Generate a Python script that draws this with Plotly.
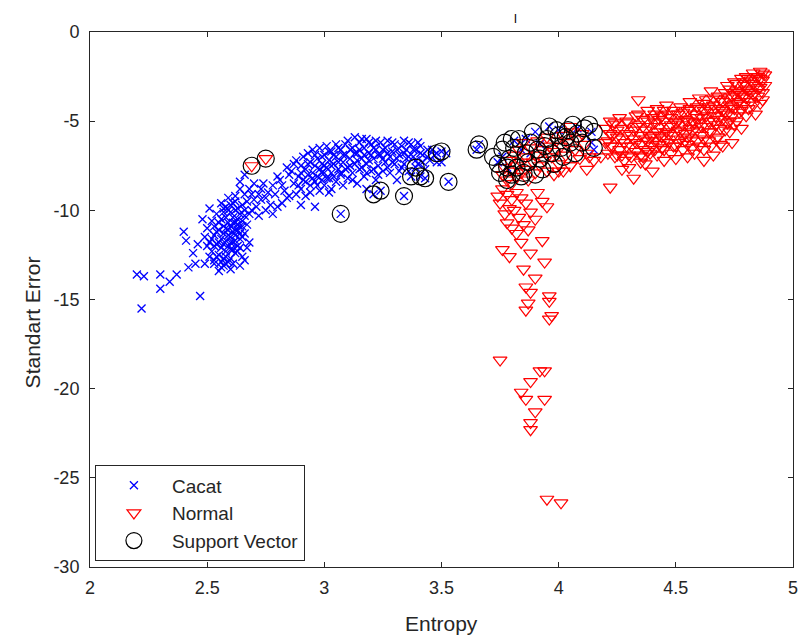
import plotly.graph_objects as go

# ---- Cacat (blue x) ----
cacat_pts = [
    (2.20,-13.6),(2.23,-13.7),(2.22,-15.5),(2.30,-13.6),(2.30,-14.4),(2.34,-14.0),(2.37,-13.6),
    (2.42,-13.2),(2.40,-11.2),(2.41,-11.7),(2.45,-13.0),(2.49,-13.0),(2.47,-14.8),(2.44,-12.4),(2.46,-11.9),
    (2.50,-11.0),(2.51,-11.8),(2.52,-12.3),(2.52,-10.6),(2.53,-11.4),(2.53,-12.8),(2.54,-10.2),(2.54,-11.9),
    (2.55,-11.1),(2.55,-12.5),(2.55,-13.4),(2.56,-10.5),(2.56,-11.6),(2.56,-12.1),(2.57,-10.9),(2.57,-11.3),
    (2.57,-12.7),(2.58,-9.8),(2.58,-10.4),(2.58,-11.0),(2.58,-11.7),(2.58,-12.3),(2.59,-10.7),(2.59,-11.4),
    (2.59,-12.0),(2.59,-12.9),(2.60,-10.1),(2.60,-10.9),(2.60,-11.5),(2.60,-12.2),(2.61,-9.6),(2.61,-10.4),
    (2.61,-11.2),(2.61,-11.8),(2.61,-13.0),(2.62,-10.0),(2.62,-10.7),(2.62,-11.4),(2.62,-12.4),(2.63,-9.9),
    (2.63,-10.5),(2.63,-11.1),(2.63,-12.0),(2.64,-10.2),(2.64,-10.9),(2.64,-11.6),(2.65,-9.7),(2.65,-10.6),
    (2.65,-12.6),(2.66,-10.3),(2.66,-11.3),(2.67,-12.1),(2.54,-12.6),(2.57,-13.1),(2.60,-13.3),(2.53,-10.9),
    (2.49,-11.5),(2.48,-10.5),(2.51,-9.9),(2.56,-9.6),(2.59,-9.3),(2.62,-9.2),(2.68,-11.8),(2.66,-12.8),(2.64,-13.1),
    (2.52,-11.6),(2.53,-12.0),(2.54,-11.2),(2.55,-10.7),(2.55,-11.8),(2.56,-12.9),(2.57,-10.1),(2.57,-11.9),
    (2.58,-12.6),(2.59,-11.1),(2.59,-10.0),(2.60,-11.8),(2.60,-12.7),(2.61,-10.7),(2.61,-12.2),(2.62,-11.1),
    (2.62,-11.7),(2.63,-10.8),(2.63,-12.3),(2.64,-11.3),(2.64,-12.1),(2.65,-10.9),(2.65,-11.5),(2.66,-10.0),
    (2.58,-13.0),(2.56,-13.2),(2.53,-13.0),(2.51,-12.6),(2.50,-12.0),(2.62,-9.5),(2.60,-9.7),(2.57,-9.9),
    (2.67,-10.8),(2.68,-10.2),
    (2.64,-8.4),(2.64,-8.8),(2.73,-8.8),(2.73,-9.4),(2.76,-9.0),(2.81,-8.3),(2.82,-9.6),(2.72,-10.3),(2.80,-9.8),
    (2.69,-9.1),(2.70,-8.5),(2.67,-9.5),(2.78,-8.6),(2.83,-8.9),(2.77,-9.7),(2.85,-8.0),(2.84,-7.6),(2.71,-9.8),
    (2.66,-8.0),(2.75,-10.0),(2.68,-8.8),(2.70,-9.4),(2.72,-9.1),(2.74,-8.5),(2.75,-9.3),(2.79,-9.1),(2.80,-8.1),
    (2.82,-8.6),(2.84,-9.3),(2.66,-9.1),(2.69,-10.0),(2.78,-10.2),
    (2.86,-7.8),(2.87,-8.5),(2.88,-7.2),(2.88,-9.1),(2.89,-8.1),(2.90,-7.5),(2.90,-8.8),(2.91,-7.0),(2.91,-8.3),
    (2.92,-7.7),(2.92,-9.2),(2.93,-6.8),(2.93,-8.0),(2.94,-7.3),(2.94,-8.6),(2.95,-7.9),(2.95,-6.6),(2.96,-7.5),
    (2.96,-9.8),(2.96,-8.4),(2.97,-7.1),(2.97,-8.1),(2.98,-6.5),(2.98,-7.7),(2.98,-8.9),(2.99,-7.4),(2.99,-8.3),
    (3.00,-6.9),(3.00,-7.9),(3.00,-8.6),(3.01,-6.4),(3.01,-7.6),(3.02,-7.2),(3.02,-8.2),(3.03,-6.7),(3.03,-7.9),
    (3.03,-8.8),(3.04,-7.4),(3.05,-6.3),(3.05,-7.0),(3.05,-8.4),(3.06,-7.7),(3.07,-6.6),(3.07,-8.0),(3.08,-7.3),
    (3.08,-8.6),(3.09,-6.9),(3.10,-6.1),(3.10,-7.6),(3.10,-8.2),(3.11,-7.1),(3.12,-6.5),(3.12,-7.9),(3.13,-5.9),
    (3.13,-7.4),(3.14,-6.8),(3.14,-8.5),(3.15,-6.2),(3.15,-7.7),(3.16,-7.1),(3.17,-6.5),(3.17,-8.1),(3.18,-6.0),
    (3.18,-7.4),(3.19,-6.8),(3.20,-7.8),(3.20,-6.3),(3.21,-7.1),(3.22,-6.6),(3.22,-8.3),(3.23,-7.5),(3.24,-6.2),
    (3.24,-6.9),(3.25,-7.8),(3.26,-6.5),(3.26,-7.3),(3.27,-6.1),(3.28,-7.0),(3.28,-7.9),(3.29,-6.7),(3.30,-6.3),
    (3.30,-7.4),(3.31,-8.3),(3.32,-6.9),(3.33,-6.4),(3.33,-7.6),(3.34,-6.1),(3.35,-7.1),(3.35,-6.6),(3.36,-7.8),
    (3.37,-6.3),(3.38,-7.0),(3.39,-6.6),(3.40,-7.4),(3.41,-6.4),(3.42,-6.9),(3.43,-7.7),(3.44,-6.6),(3.45,-7.2),
    (3.47,-6.9),(3.50,-7.3),(3.52,-6.8),(2.85,-9.2),(2.90,-9.7),(3.02,-9.0),(3.18,-8.8),
    (2.87,-7.4),(2.89,-8.6),(2.90,-7.9),(2.92,-8.4),(2.93,-7.4),(2.94,-9.0),(2.95,-8.2),(2.96,-6.9),(2.97,-8.6),
    (2.99,-7.0),(2.99,-7.9),(3.00,-7.5),(3.01,-8.2),(3.02,-6.7),(3.03,-7.5),(3.04,-8.1),(3.04,-6.9),(3.06,-6.5),
    (3.06,-7.3),(3.07,-7.9),(3.08,-6.9),(3.09,-7.7),(3.09,-6.3),(3.11,-6.6),(3.11,-7.5),(3.12,-8.3),(3.13,-6.8),
    (3.14,-7.2),(3.15,-6.6),(3.16,-6.0),(3.16,-7.6),(3.17,-6.9),(3.18,-7.9),(3.19,-6.2),(3.19,-7.2),(3.20,-6.9),
    (3.21,-6.5),(3.21,-7.7),(3.22,-6.1),(3.23,-6.9),(3.23,-8.0),(3.25,-6.6),(3.25,-7.1),(3.27,-6.8),(3.27,-7.6),
    (3.29,-6.2),(3.29,-7.3),(3.31,-6.6),(3.31,-7.1),(3.32,-7.8),(3.34,-6.8),(3.34,-7.4),(3.36,-6.2),(3.36,-7.0),
    (3.38,-6.6),(3.39,-7.2),(3.40,-6.2),(3.41,-6.8),(3.42,-7.3),(3.44,-7.0),(3.46,-6.6),(3.48,-7.3),
    (3.07,-10.2),(3.21,-9.1),(3.24,-8.9),(3.34,-9.2),(3.37,-8.1),(3.41,-8.1),(3.43,-8.2),(3.53,-8.4),(3.50,-6.7),
    (3.48,-6.8),(3.66,-6.3),(3.65,-6.6),(3.39,-7.6),
    (3.76,-7.0),(3.81,-6.1),(3.84,-6.6),(3.88,-6.8),(3.90,-5.6),(3.96,-5.3),(4.14,-5.6),(4.14,-6.2),(4.15,-6.6),
    (3.78,-7.6),(3.86,-6.0),(3.92,-6.3),(4.00,-5.5),(4.08,-5.4),(3.74,-7.3),
]
cacat_x = [p[0] for p in cacat_pts]
cacat_y = [p[1] for p in cacat_pts]

# ---- Normal (red down-triangles) ----
normal_pts = [
    (2.69,-7.5),(2.75,-7.1),
    (3.76,-8.0),(3.77,-7.6),(3.78,-8.3),(3.79,-7.2),(3.80,-7.8),(3.80,-8.5),(3.81,-6.9),(3.82,-7.5),(3.82,-8.1),
    (3.83,-6.6),(3.84,-7.3),(3.84,-7.9),(3.85,-6.2),(3.86,-7.0),(3.86,-7.7),(3.87,-8.3),(3.88,-6.5),(3.89,-7.3),
    (3.90,-6.9),(3.90,-7.9),(3.91,-6.1),(3.92,-7.5),(3.93,-6.6),(3.94,-7.2),(3.95,-5.9),(3.95,-7.8),(3.96,-6.4),
    (3.97,-7.0),(3.98,-6.7),(3.99,-6.1),(4.00,-7.4),(4.01,-6.4),(4.02,-5.8),(4.03,-6.9),(4.04,-6.2),(4.05,-7.5),
    (4.06,-5.6),(4.07,-6.6),(4.08,-6.0),(4.09,-7.1),(4.10,-5.7),(4.11,-6.3),(4.12,-6.8),(4.05,-5.3),(4.02,-7.8),
    (3.98,-8.0),(4.15,-7.2),(4.00,-7.8),(4.22,-8.7),(4.13,-7.0),
    (3.76,-8.8),(3.78,-9.1),(3.80,-9.4),(3.75,-9.6),(3.82,-9.0),(3.79,-9.9),(3.84,-9.3),(3.77,-10.2),(3.81,-10.0),
    (3.86,-9.6),(3.83,-10.4),(3.78,-10.7),(3.88,-10.1),(3.80,-11.0),(3.85,-10.8),(3.90,-10.5),(3.82,-11.3),
    (3.87,-11.1),(3.93,-9.5),(3.95,-9.8),(3.76,-12.2),(3.79,-12.6),(3.85,-13.3),(3.94,-12.9),(3.88,-12.4),
    (3.93,-11.7),(3.84,-11.8),(3.91,-9.0),(3.74,-9.2),(3.86,-14.3),(3.88,-14.6),(3.96,-14.8),(3.86,-15.6),
    (3.97,-15.9),(3.96,-15.1),(3.96,-16.1),(3.90,-13.8),(3.75,-18.4),(3.92,-19.0),(3.94,-19.0),(3.88,-19.6),
    (3.84,-20.2),(3.86,-20.6),(3.94,-20.6),(3.90,-21.3),(3.88,-21.9),(3.88,-22.3),(3.95,-26.2),(4.01,-26.4),(3.87,-15.2),
    (4.22,-5.0),(4.23,-5.8),(4.05,-7.5),(4.12,-7.7),(4.27,-7.7),(4.32,-8.2),(4.18,-7.0),(4.40,-7.8),(4.35,-7.3),(4.20,-6.2),
    (4.20,-5.4),(4.21,-6.1),(4.21,-6.8),(4.22,-5.7),(4.23,-6.4),(4.24,-5.1),(4.24,-7.0),(4.25,-5.9),(4.26,-6.6),
    (4.26,-4.8),(4.27,-5.4),(4.28,-6.2),(4.28,-7.2),(4.29,-5.7),(4.30,-6.9),(4.30,-5.1),
    (4.31,-6.4),(4.32,-5.5),(4.32,-6.0),(4.33,-4.7),(4.33,-6.7),(4.34,-3.8),(4.34,-5.2),(4.35,-6.3),(4.35,-5.8),
    (4.36,-7.0),(4.36,-4.9),(4.37,-5.5),(4.37,-6.6),(4.38,-6.1),(4.38,-4.4),(4.39,-5.3),(4.39,-6.8),(4.40,-5.8),
    (4.40,-4.8),(4.40,-6.4),
    (4.41,-5.1),(4.41,-6.1),(4.42,-4.3),(4.42,-5.6),(4.42,-6.9),(4.43,-5.3),(4.43,-6.3),(4.44,-4.7),(4.44,-5.9),
    (4.45,-6.6),(4.45,-5.0),(4.46,-5.6),(4.46,-4.1),(4.47,-6.2),(4.47,-5.3),(4.48,-4.8),(4.48,-6.8),(4.49,-5.8),
    (4.49,-4.4),(4.50,-5.1),(4.50,-6.4),(4.50,-7.1),
    (4.51,-5.5),(4.51,-4.6),(4.52,-6.0),(4.52,-4.2),(4.53,-5.2),(4.53,-6.6),(4.54,-4.9),(4.54,-5.7),(4.55,-4.4),
    (4.55,-6.3),(4.56,-5.4),(4.56,-3.9),(4.57,-5.0),(4.57,-6.0),(4.58,-4.6),(4.58,-6.8),(4.59,-5.5),(4.59,-4.2),
    (4.60,-5.1),(4.60,-6.4),(4.60,-3.7),
    (4.61,-4.8),(4.61,-5.8),(4.62,-4.4),(4.62,-6.6),(4.63,-5.3),(4.63,-3.8),(4.64,-5.0),(4.64,-6.1),(4.65,-4.5),
    (4.65,-3.3),(4.65,-5.6),(4.66,-4.1),(4.66,-6.9),(4.67,-5.2),(4.67,-4.7),(4.68,-3.6),(4.68,-5.9),(4.69,-4.3),
    (4.69,-5.4),(4.70,-3.9),(4.70,-4.9),(4.70,-6.4),
    (4.71,-3.4),(4.71,-4.5),(4.72,-5.1),(4.72,-3.0),(4.73,-4.1),(4.73,-5.6),(4.74,-3.6),(4.74,-4.7),(4.75,-2.8),
    (4.75,-4.3),(4.76,-3.3),(4.76,-5.0),(4.77,-3.9),(4.77,-4.5),(4.78,-2.6),(4.78,-3.5),(4.78,-5.4),(4.79,-4.1),
    (4.79,-3.0),(4.80,-4.7),(4.80,-2.5),(4.80,-3.7),
    (4.81,-3.3),(4.81,-4.3),(4.82,-2.7),(4.82,-3.9),(4.83,-2.3),(4.83,-3.5),(4.84,-3.0),(4.84,-4.6),(4.85,-2.5),
    (4.85,-3.6),(4.86,-2.2),(4.86,-3.1),(4.87,-2.7),(4.87,-3.4),(4.88,-2.4),(4.88,-3.0),
    (4.22,-6.4),(4.23,-5.2),(4.25,-6.9),(4.25,-5.5),(4.27,-6.0),(4.27,-6.9),(4.29,-6.4),(4.29,-5.0),(4.31,-5.8),
    (4.31,-7.0),(4.33,-5.3),(4.33,-6.2),(4.34,-4.6),(4.35,-6.9),(4.36,-5.3),(4.37,-6.0),(4.38,-5.0),(4.38,-6.7),
    (4.39,-5.9),(4.41,-4.6),(4.41,-6.6),(4.43,-4.9),(4.43,-5.8),(4.44,-6.5),(4.45,-4.4),(4.46,-6.0),(4.47,-4.6),
    (4.47,-5.7),(4.48,-5.2),(4.49,-6.4),(4.51,-6.2),(4.51,-5.0),(4.52,-5.6),(4.53,-4.5),(4.54,-6.1),(4.55,-5.0),
    (4.55,-5.9),(4.56,-4.3),(4.57,-5.6),(4.57,-6.5),(4.58,-5.1),(4.59,-4.8),(4.59,-6.1),(4.60,-4.3),(4.61,-5.3),
    (4.62,-4.0),(4.62,-6.0),(4.63,-4.7),(4.64,-4.2),(4.64,-5.6),(4.65,-6.4),(4.66,-3.7),(4.66,-5.0),(4.67,-4.3),
    (4.67,-6.0),(4.68,-4.9),(4.69,-3.8),(4.69,-6.3),(4.70,-4.4),(4.71,-5.5),(4.72,-3.7),(4.72,-4.6),(4.73,-3.2),
    (4.73,-5.0),(4.74,-4.2),(4.75,-3.5),(4.75,-5.2),(4.76,-2.9),(4.76,-4.0),(4.77,-3.4),(4.78,-4.4),(4.79,-2.8),
    (4.79,-3.6),(4.80,-3.2),(4.81,-2.6),(4.82,-3.4),(4.83,-2.9),(4.83,-4.1),(4.84,-2.5),(4.85,-3.2),(4.86,-2.6),
    (4.87,-2.3),(4.87,-3.8),(4.86,-4.0),(4.74,-6.2),(4.62,-7.2),(4.55,-7.0),(4.45,-7.2),(4.37,-7.4),(4.30,-7.6),
]
normal_x = [p[0] for p in normal_pts]
normal_y = [p[1] for p in normal_pts]

# ---- Support vectors (black circles) ----
sv_pts = [
    (2.69,-7.5),(2.75,-7.1),(3.07,-10.2),(3.21,-9.1),(3.24,-8.9),(3.34,-9.2),(3.37,-8.1),(3.41,-8.1),(3.43,-8.2),
    (3.39,-7.6),(3.53,-8.4),(3.50,-6.7),(3.48,-6.8),(3.66,-6.3),(3.65,-6.6),
    (3.72,-7.0),(3.77,-6.2),(3.80,-6.0),(3.83,-6.0),(3.89,-5.6),(3.96,-5.3),(4.06,-5.2),(4.13,-5.2),(4.15,-5.6),
    (4.15,-6.5),(3.75,-7.9),(3.78,-8.3),(3.74,-7.4),(3.76,-6.6),(3.79,-7.1),(3.82,-7.6),(3.84,-8.1),(3.80,-8.0),
    (3.86,-6.8),(3.87,-7.3),(3.88,-6.2),(3.91,-6.6),(3.92,-7.1),(3.93,-7.7),(3.95,-6.0),(3.97,-6.8),(3.98,-7.4),
    (4.00,-5.8),(4.01,-6.5),(4.02,-7.0),(4.04,-5.5),(4.05,-6.2),(4.07,-6.8),(4.08,-5.7),(4.10,-6.2),(4.11,-5.4),
    (3.81,-6.5),(3.85,-7.9),(3.90,-8.0),(3.78,-7.6),(3.94,-6.4),(4.03,-5.9),(3.99,-5.5),
]
sv_x = [p[0] for p in sv_pts]
sv_y = [p[1] for p in sv_pts]

x_ticks = [2, 2.5, 3, 3.5, 4, 4.5, 5]
y_ticks = [0, -5, -10, -15, -20, -25, -30]

FONT = "Liberation Sans, Arial, sans-serif"
AX = "#262626"

fig = go.Figure()
fig.add_trace(go.Scatter(
    x=cacat_x, y=cacat_y, mode="markers", name="Cacat", legendgroup="a",
    marker=dict(symbol="x-thin", size=8, color="#0000ff", line=dict(width=1.3, color="#0000ff")),
))
fig.add_trace(go.Scatter(
    x=normal_x, y=normal_y, mode="markers", name="Normal", legendgroup="b",
    marker=dict(symbol="triangle-down-open", size=12, color="#ff0000", line=dict(width=1.2)),
))
fig.add_trace(go.Scatter(
    x=sv_x, y=sv_y, mode="markers", name="Support Vector", legendgroup="c",
    marker=dict(symbol="circle-open", size=17, color="#000000", line=dict(width=1.2)),
))

axis_common = dict(
    showline=True, linecolor=AX, linewidth=1, mirror="ticks", ticks="inside", ticklen=5,
    tickcolor=AX, showgrid=False, zeroline=False,
    tickfont=dict(family=FONT, size=18, color=AX),
)
fig.update_xaxes(range=[2, 5], tickvals=x_ticks, ticktext=[str(v) for v in x_ticks],
                 ticklabelstandoff=4, **axis_common)
fig.update_yaxes(range=[-30, 0], tickvals=y_ticks, ticktext=[str(v) for v in y_ticks],
                 ticklabelstandoff=6, **axis_common)

fig.update_layout(
    width=807, height=641,
    margin=dict(l=90, r=9, t=32, b=74),
    plot_bgcolor="white", paper_bgcolor="white",
    font=dict(family=FONT, size=18, color=AX),
    legend=dict(x=0.007, y=0.19, xanchor="left", yanchor="top",
                bgcolor="white", bordercolor=AX, borderwidth=1,
                font=dict(family=FONT, size=19, color=AX),
                tracegroupgap=0, itemwidth=66),
    annotations=[
        dict(text="l", x=0.605, y=1.0, xref="paper", yref="paper",
             xanchor="center", yanchor="bottom", yshift=4, showarrow=False,
             font=dict(family=FONT, size=13, color="#000000")),
        dict(text="Entropy", x=0.5, y=-0.1047, xref="paper", yref="paper",
             xanchor="center", yanchor="middle", showarrow=False,
             font=dict(family=FONT, size=21, color=AX)),
        dict(text="Standart Error", x=-0.0805, y=0.458, xref="paper", yref="paper",
             xanchor="center", yanchor="middle", textangle=-90, showarrow=False,
             font=dict(family=FONT, size=21, color=AX)),
    ],
)

fig.write_html("out.html")
